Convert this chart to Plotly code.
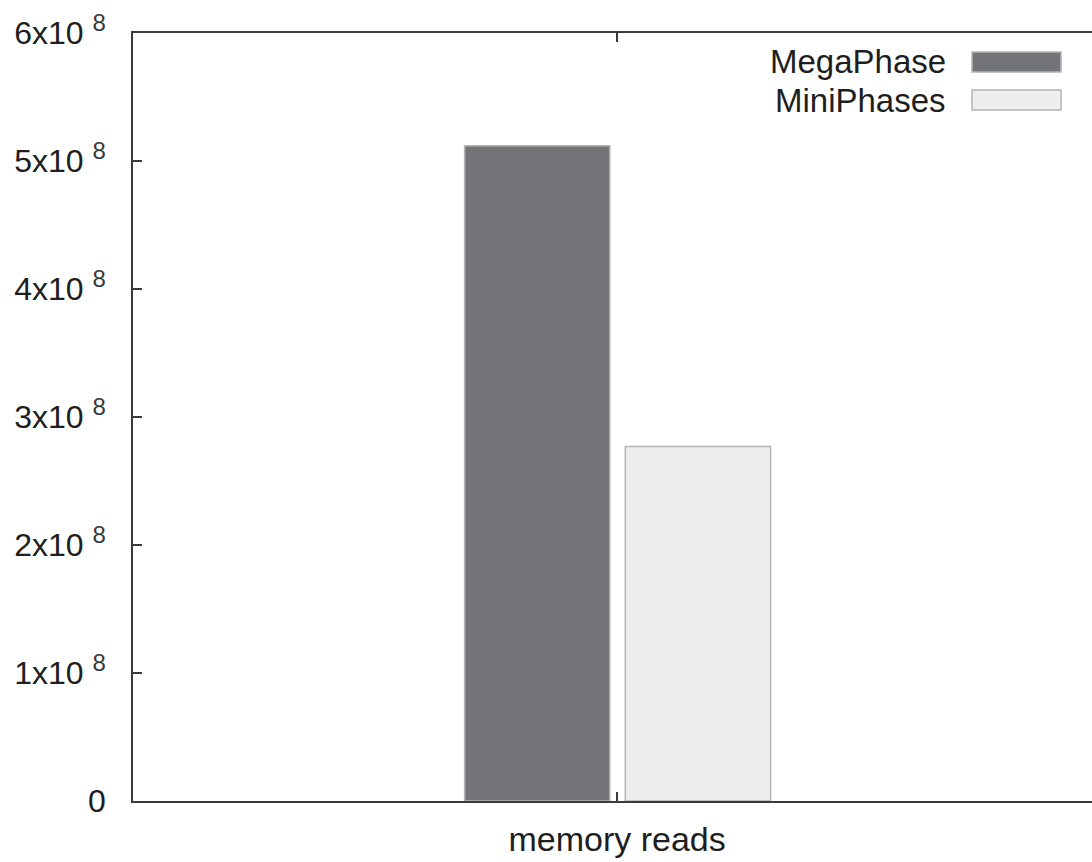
import plotly.graph_objects as go

# Data
categories = ["memory reads"]
series_names = ["MegaPhase", "MiniPhases"]
megaphase = [5.12e8]
miniphases = [2.77e8]
y_tick_values = [0, 1e8, 2e8, 3e8, 4e8, 5e8, 6e8]
y_tick_mantissas = ["0", "1", "2", "3", "4", "5", "6"]

# Styles
FONT = "Liberation Sans, Arial, sans-serif"
TEXT = "#1e1e1e"
AXIS = "#3a3a3a"
OUTLINE = "#b4b4b4"
fills = {"MegaPhase": "#737478", "MiniPhases": "#eeeeee"}


def sci_label(m):
    if m == "0":
        return "0"
    return m + 'x10 <sup><span style="font-size:24px;fill:#3a3a3a">8</span></sup>'


y_tick_labels = [sci_label(m) for m in y_tick_mantissas]

W, H = 1092, 862
ML, MR, MT, MB = 133, 0, 33, 61
plot_w = W - ML - MR
plot_h = H - MT - MB

fig = go.Figure()
fig.add_trace(go.Bar(
    x=categories, y=megaphase, name=series_names[0],
    width=0.30, offset=-0.315,
    marker=dict(color=fills["MegaPhase"], line=dict(color=OUTLINE, width=1.5)),
))
fig.add_trace(go.Bar(
    x=categories, y=miniphases, name=series_names[1],
    width=0.30, offset=0.017,
    marker=dict(color=fills["MiniPhases"], line=dict(color=OUTLINE, width=1.5)),
))

# Legend drawn as text + swatch on the right, gnuplot style
def px_x(p):
    return (p - ML) / plot_w


def px_y(p):
    return (H - MB - p) / plot_h


rows = [(series_names[0], 61, 52, 72), (series_names[1], 100, 90, 110)]
shapes = []
annotations = []
for name, yc, y0, y1 in rows:
    annotations.append(dict(
        text=name, xref="paper", yref="paper", x=px_x(948), y=px_y(yc),
        xanchor="right", yanchor="middle", showarrow=False,
        font=dict(family=FONT, size=33, color=TEXT),
    ))
    shapes.append(dict(
        type="rect", xref="paper", yref="paper",
        x0=px_x(972), x1=px_x(1061), y0=px_y(y1), y1=px_y(y0),
        fillcolor=fills[name], line=dict(color=OUTLINE, width=1.5),
    ))

fig.update_layout(
    width=W, height=H,
    margin=dict(l=ML, r=MR, t=MT, b=MB, pad=0),
    paper_bgcolor="white", plot_bgcolor="white",
    showlegend=False, barmode="overlay",
    font=dict(family=FONT, size=32, color=TEXT),
    shapes=shapes, annotations=annotations,
)
fig.update_xaxes(
    type="category", range=[-1, 0.981],
    showline=True, linecolor=AXIS, linewidth=1.5, mirror="ticks",
    ticks="inside", ticklen=9, tickwidth=1.5, tickcolor=AXIS,
    showgrid=False, zeroline=False, ticklabelstandoff=7,
    tickfont=dict(family=FONT, size=34, color=TEXT),
)
fig.update_yaxes(
    range=[0, 6e8], tickvals=y_tick_values, ticktext=y_tick_labels,
    showline=True, linecolor=AXIS, linewidth=1.5,
    ticks="inside", ticklen=9, tickwidth=1.5, tickcolor=AXIS,
    showgrid=False, zeroline=False, ticklabelstandoff=19,
    tickfont=dict(family=FONT, size=32, color=TEXT),
)

fig.write_html("out.html")
